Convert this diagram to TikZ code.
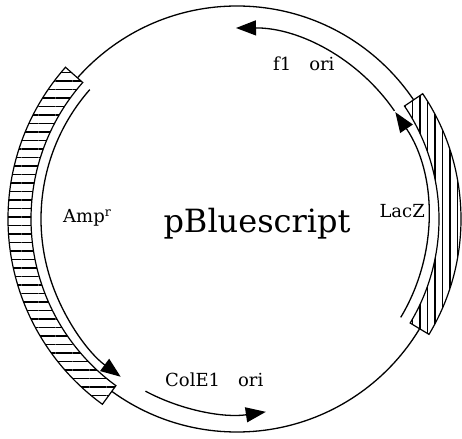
\documentclass[tikz,border=0pt]{standalone}
\usepackage{fontspec}
\setmainfont{DejaVu Serif}
\usetikzlibrary{arrows.meta,patterns.meta}

\begin{document}
\begin{tikzpicture}[
  x=1pt, y=1pt,
  genelabel/.style={font=\fontsize{18}{20}\selectfont, inner sep=0pt},
  titlelabel/.style={font=\fontsize{32}{36}\selectfont, inner sep=0pt},
  genebox/.style={draw, line width=1.2pt, preaction={fill=white}},
  ampbox/.style={genebox, pattern={Lines[angle=0, distance=8.5pt, line width=1.2pt]}},
  laczbox/.style={genebox, pattern={Lines[angle=90, distance=7.5pt, line width=1.2pt]}},
  arr/.style={line width=1.3pt, -{Triangle[length=20pt, width=15pt]}}
]
\useasboundingbox (-237,-219) rectangle (225,219);

% plasmid backbone
\draw [line width=1.3pt] (0,0) circle [radius=213];

% gene boxes
\draw [ampbox] (138.5:206) arc [start angle=138.5, end angle=234, radius=206] -- (234:229) arc [start angle=234, end angle=138.5, radius=229] -- cycle;
\draw [laczbox] (-31:202) arc [start angle=-31, end angle=34, radius=202] -- (34:224) arc [start angle=34, end angle=-31, radius=224] -- cycle;

% direction arrows
\draw [arr] (138.7:196) arc [start angle=138.7, end angle=233.6, radius=196];
\draw [arr] (242:195) arc [start angle=242, end angle=278.5, radius=195];
\draw [arr] (-31:191) arc [start angle=-31, end angle=34, radius=191];
\draw [arr] (34.5:191) arc [start angle=34.5, end angle=90.3, radius=191];

\node (title) [titlelabel, anchor=base] at (20,-14) {pBluescript};
\node (amp) [genelabel, anchor=base west] at (-174,-4) {Amp\textsuperscript{r}};
\node (f1) [genelabel, anchor=base west] at (36,148) {f1\quad ori};
\node (lacz) [genelabel, anchor=base east] at (188,1) {LacZ};
\node (cole1) [genelabel, anchor=base west] at (-72,-167) {ColE1\quad ori};

\end{tikzpicture}
\end{document}
